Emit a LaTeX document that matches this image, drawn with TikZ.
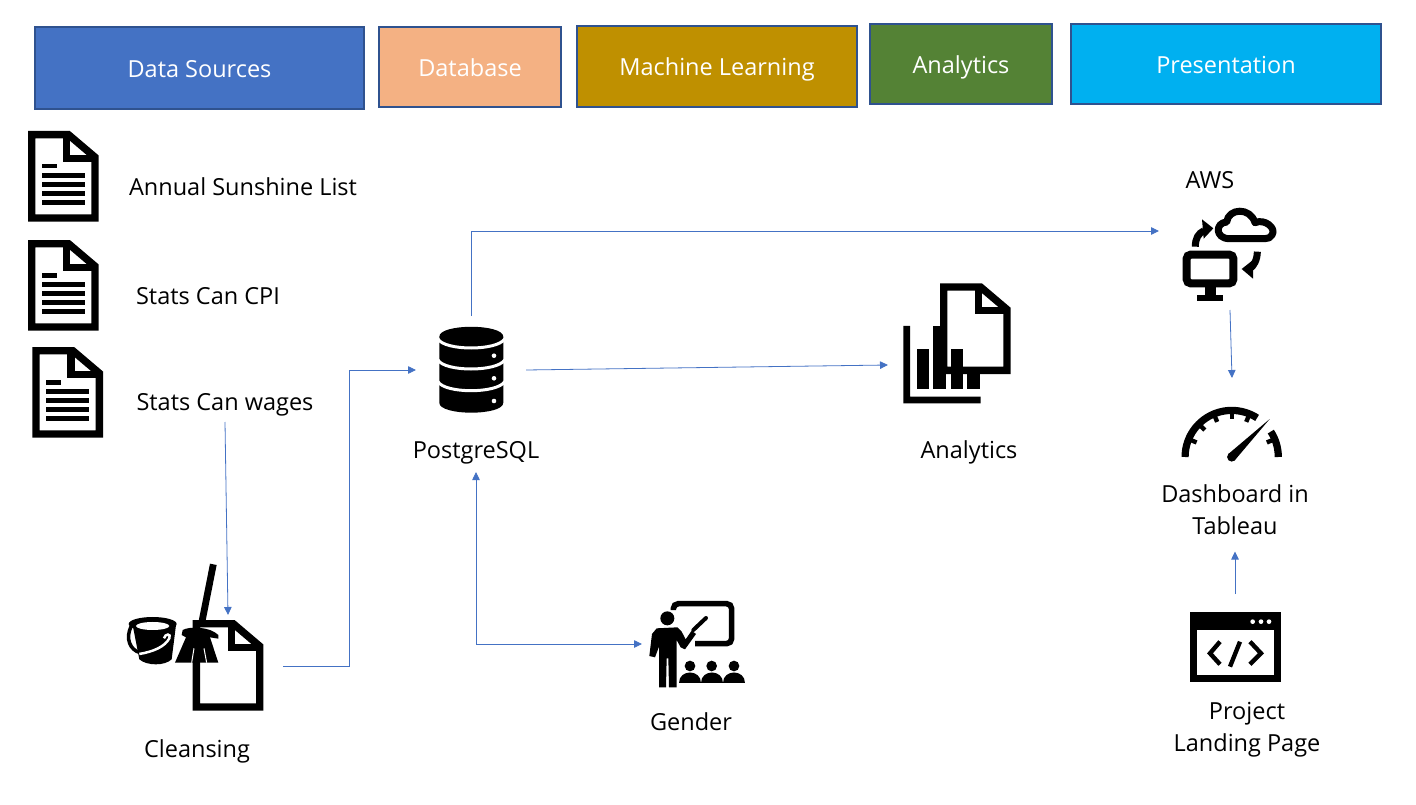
\documentclass[tikz,border=0pt]{standalone}
\usepackage{fontspec}
\setmainfont{Open Sans}
\usetikzlibrary{arrows.meta, positioning, calc}
\definecolor{flowblue}{HTML}{4472C4}
\definecolor{edgeblue}{HTML}{2F528F}
\definecolor{srcblue}{HTML}{4472C4}
\definecolor{dbpeach}{HTML}{F4B183}
\definecolor{mlgold}{HTML}{BF9000}
\definecolor{angreen}{HTML}{548235}
\definecolor{prcyan}{HTML}{00B0F0}
\tikzset{
  header/.style={draw=edgeblue, line width=1.5, text=white, inner sep=0, outer sep=0, text height=19, text depth=0, font=\fontsize{23.5}{26}\selectfont},
  lbl/.style={inner sep=0, outer sep=0, text height=19, text depth=2, font=\fontsize{23.5}{31.5}\selectfont},
  lines/.style={inner sep=0, outer sep=0, align=center, font=\fontsize{23.5}{31.5}\selectfont},
  iconbox/.style={inner sep=0, outer sep=0},
  flow/.style={draw=flowblue, line width=0.8, -{Triangle[length=8pt,width=7.5pt]}},
  sheet/.pic={
    \draw[fill=white, line width=7.4] (3.7,3.7) -- (40.5,3.7) -- (67,26.2) -- (67,87) -- (3.7,87) -- cycle;
    \draw[line width=7.4] (38.7,3.7) -- (38.7,27.3) -- (67,27.3);
  },
  textsheet/.pic={
    \pic at (0,0) {sheet};
    \draw[line width=4.6] (14,35.2) -- (29,35.2);
    \foreach \y in {44.5,53.5,62.5,71.5}
      \draw[line width=4.6] (14,\y) -- (57,\y);
  }
}
\begin{document}
\begin{tikzpicture}[x=1pt,y=-1pt]
           \useasboundingbox (0,0) rectangle (1416,805);

           \node[header,fill=srcblue,minimum width=329,minimum height=82] at (199.5,68) (H1) {Data Sources};
           \node[header,fill=dbpeach,minimum width=182,minimum height=80] at (470,67) (H2) {Database};
           \node[header,fill=mlgold,minimum width=280,minimum height=81] at (717,66.5) (H3) {Machine Learning};
           \node[header,fill=angreen,minimum width=182,minimum height=80] at (961,64) (H4) {Analytics};
           \node[header,fill=prcyan,minimum width=310,minimum height=80] at (1226,64) (H5) {Presentation};

           \pic at (28,131) {textsheet};
           \pic at (28,240) {textsheet};
           \pic at (32.3,347) {textsheet};
           \node[lbl] at (243,187) (Sunshine) {Annual Sunshine List};
           \node[lbl] at (208,296) (CPI) {Stats Can CPI};
           \node[lbl,minimum height=40] at (225,402) (Wages) {Stats Can wages};

           % cleansing
           \node[iconbox,minimum width=110,minimum height=102] at (228,666) (CleanIcon) {};
           \pic at (192.7,620) {sheet};
           \begin{scope}[shift={(110,550)},scale=0.3333]
             \fill (68,225) -- (88,328) .. controls (110,348) and (165,348) .. (185,328) -- (198,225) -- cycle;
             \fill (128,222) ellipse [x radius=72, y radius=21];
             \fill[white] (128,228) ellipse [x radius=50, y radius=12];
             \draw[line width=3.5] (64,228) .. controls (45,265) and (60,300) .. (90,308);
             \draw[white, line width=2.5] (88,312) .. controls (130,305) and (165,290) .. (178,265) .. controls (185,250) and (165,250) .. (162,265);
             \draw[line width=6.8] (310,43) -- (275,220);
             \fill (218,240) .. controls (240,228) and (300,230) .. (325,255) -- (325,266) -- (300,262) -- (325,338) -- (195,338) -- (228,262) -- (215,255) -- cycle;
             \draw[white, line width=1] (245,338) -- (252,295);
             \draw[white, line width=1] (290,338) -- (282,295);
           \end{scope}
           \node[lbl] at (197,749) (Cleansing) {Cleansing};

           % database
           \node[iconbox,minimum width=110,minimum height=108] at (471,370) (DbIcon) {};
           \fill (439.3,336.7) .. controls (439.3,323.5) and (503.3,323.5) .. (503.3,336.7) -- (503.3,402.7) .. controls (503.3,416) and (439.3,416) .. (439.3,402.7) -- cycle;
           \foreach \y in {339,360,381.7}
             \draw[white, line width=3] (438,\y) .. controls (445,\y+12) and (497,\y+12) .. (504.6,\y);
           \foreach \y in {355.7,378.3,401}
             \fill[white] (494,\y) circle [radius=2.3];
           \node[lbl,minimum height=44] at (476,450) (Postgres) {PostgreSQL};

           % gender
           \node[iconbox,minimum width=104,minimum height=100] at (694,644) (GenderIcon) {};
           \begin{scope}[shift={(640,590)},scale=0.3333]
             \draw[line width=5.6, rounded corners=5] (100,60) -- (100,41) -- (275,41) -- (275,161) -- (165,161);
             \fill (82,85) circle [radius=21];
             \fill (50,115) -- (112,112) -- (125,125) -- (137,148) -- (155,122) -- (168,132) -- (135,178) -- (122,172) -- (110,150) -- (110,292) -- (87,292) -- (85,205) -- (80,205) -- (78,292) -- (57,292) -- (57,170) -- (45,202) -- (28,198) -- (36,132) -- cycle;
             \draw[line width=4, line cap=round] (160,120) -- (198,84);
             \foreach \x in {150,215,282} {
               \fill (\x,228) circle [radius=16];
               \fill (\x-33,280) .. controls (\x-33,238) and (\x+33,238) .. (\x+33,280) -- cycle;
             }
           \end{scope}
           \node[lbl] at (691,722) (Gender) {Gender};

           % analytics
           \node[iconbox,minimum width=110,minimum height=120] at (943,365) (AnIcon) {};
           \pic at (940,283.3) {sheet};
           \begin{scope}[shift={(890,270)},scale=0.3333]
             \fill (40,168) -- (60,168) -- (60,380) -- (272,380) -- (272,400) -- (40,400) -- cycle;
             \fill (80,238) rectangle (118,357);
             \fill (130,168) rectangle (168,357);
             \fill (182,238) rectangle (220,357);
             \fill (232,310) rectangle (270,357);
           \end{scope}
           \node[lbl] at (969,450) (Analytics) {Analytics};

           % aws
           \node[lbl] at (1210,180) (Aws) {AWS};
           \node[iconbox,minimum width=142,minimum height=158] at (1230,231) (AwsIcon) {};
           \begin{scope}[shift={(1170,200)},scale=0.3333]
             \draw[line width=8, rounded corners=4, fill=white] (50,164) rectangle (190,250);
             \fill (105,262) rectangle (137,285);
             \fill (80,285) rectangle (160,302);
             \draw[line width=7, line join=round] (178,116) .. controls (135,116) and (135,68) .. (170,66) .. controls (175,25) and (240,20) .. (255,68) .. controls (285,55) and (320,85) .. (306,105) .. controls (301,113) and (295,116) .. (285,116) -- cycle;
             \draw[line width=7] (76,140) .. controls (76,115) and (85,100) .. (102,92);
             \fill (130,85) -- (96,58) -- (101,116) -- cycle;
             \draw[line width=7] (262,155) .. controls (262,180) and (250,200) .. (240,205);
             \fill (215,207) -- (249,180) -- (249,236) -- cycle;
           \end{scope}

           % dashboard
           \node[iconbox,minimum width=110,minimum height=56] at (1232,406) (GaugeIcon) {};
           \begin{scope}[shift={(1231.7,457)}]
             \draw[line width=7.2] plot[domain=57:180,samples=40] ({46.6*cos(\x)},{-46.6*sin(\x)});
             \draw[line width=7.2] plot[domain=0:33,samples=15] ({46.6*cos(\x)},{-46.6*sin(\x)});
             \foreach \a in {157.5,135,112.5,90,67.5,22.5}
               \draw[line width=4.4] ({44*cos(\a)},{-44*sin(\a)}) -- ({38*cos(\a)},{-38*sin(\a)});
             \fill (38,-38) -- (2.8,3.6) -- (-3.6,-2.8) -- cycle;
             \fill (0,0) circle [radius=4.6];
           \end{scope}
           \node[lines,minimum height=84] at (1235,509.5) (Dash) {Dashboard in\\Tableau};

           % landing page
           \node[iconbox,minimum width=110,minimum height=108] at (1235,648) (PageIcon) {};
           \begin{scope}[shift={(1180,605)},scale=0.3333]
             \draw[line width=7] (40.5,30) rectangle (292.5,222);
             \fill (30,20) rectangle (303,75);
             \foreach \x in {218,243,267}
               \fill[white] (\x,50) circle [radius=7];
             \draw[line width=4.4] (120,110) -- (90,145) -- (120,178);
             \draw[line width=4.4] (180,110) -- (150,185);
             \draw[line width=4.4] (210,110) -- (243,145) -- (210,178);
           \end{scope}
           \node[lines] at (1247,729.5) (Landing) {Project\\Landing Page};

           \draw[flow] (Wages.south) -- (CleanIcon.north);
           \draw[flow] (CleanIcon.east) -- ++(66,0) |- (DbIcon.west);
           \draw[flow] (DbIcon.north) |- (AwsIcon.west);
           \draw[flow] (DbIcon.east) -- (AnIcon.west);
           \draw[flow] (AwsIcon.south) -- (GaugeIcon.north);
           \draw[flow, {Triangle[length=8pt,width=7.5pt]}-{Triangle[length=8pt,width=7.5pt]}] (Postgres.south) |- (GenderIcon.west);
           \draw[flow] (PageIcon.north) -- (Dash.south);
        \end{tikzpicture}
\end{document}
